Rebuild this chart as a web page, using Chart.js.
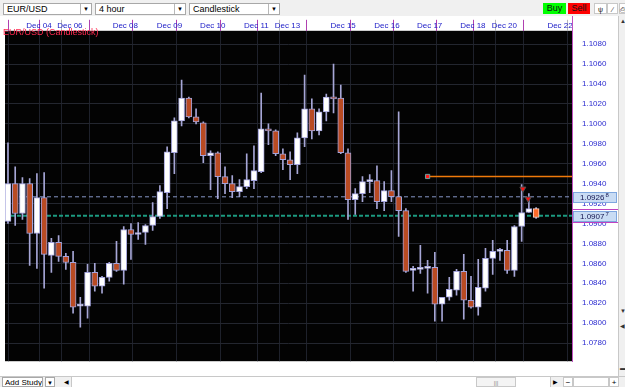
<!DOCTYPE html>
<html>
<head>
<meta charset="utf-8">
<script src="https://cdn.jsdelivr.net/npm/chart.js@4.4.0/dist/chart.umd.min.js"></script>
<style>
  body { margin: 0; width: 625px; height: 387px; overflow: hidden; position: relative; background: #f0f0f0; font-family: "Liberation Sans", Arial, sans-serif; }
  .box { position: absolute; background: #fff; border: 1px solid #a8a8a8; box-sizing: border-box; font-size: 9px; line-height: 10px; color: #000; padding-left: 3px; }
  .box .arr { position: absolute; right: 0; top: 0; width: 10px; height: 10px; border-left: 1px solid #b8b8b8; font-size: 6px; line-height: 10px; text-align: center; padding: 0; }
  .btn { position: absolute; top: 3px; height: 11px; font-size: 9px; line-height: 11px; text-align: center; color: #111; box-sizing: border-box; }
  #wrap { position: absolute; left: 0; top: 16px; width: 618px; height: 360px; }
  #legend { position: absolute; left: 3px; top: 27px; font-size: 9px; line-height: 11px; color: #ff2a50; white-space: nowrap; z-index: 2; }
  #side { position: absolute; left: 618px; top: 16px; width: 7px; height: 360px; background: #f0f0f0; border-left: 1px solid #c8c8c8; box-sizing: border-box; font-size: 6px; color: #333; }
  #bottom { position: absolute; left: 0; top: 376px; width: 625px; height: 11px; background: #f0f0f0; border-top: 1px solid #c8c8c8; box-sizing: border-box; font-size: 8px; }
  #bottom div { position: absolute; top: 0; height: 10px; line-height: 10px; box-sizing: border-box; white-space: nowrap; overflow: hidden; }
</style>
</head>
<body>
<div class="box" style="left:3px;top:3px;width:89px;height:12px">EUR/USD<div class="arr">&#9660;</div></div>
<div class="box" style="left:95px;top:3px;width:91px;height:12px">4 hour<div class="arr">&#9660;</div></div>
<div class="box" style="left:189px;top:3px;width:91px;height:12px">Candlestick<div class="arr">&#9660;</div></div>
<div class="btn" style="left:543px;width:23px;background:#00ff00">Buy</div>
<div class="btn" style="left:568px;width:22px;background:#ff0000">Sell</div>
<div class="btn" style="left:594px;width:13px;background:#fff;border:1px solid #c8c8c8;font-size:7px">&#968;</div>
<div class="btn" style="left:607px;width:11px;background:#fff;border:1px solid #c8c8c8;font-size:7px">&#8725;</div>
<div class="btn" style="left:619px;width:8px;background:#fff;border:1px solid #c8c8c8;font-size:7px">&#9113;</div>

<div id="wrap"><canvas id="chart"></canvas></div>
<div id="legend">EUR/USD (Candlestick)</div>
<div id="side"><div style="position:absolute;top:2px;left:1px">&#9650;</div><div style="position:absolute;top:292px;left:1px">&#9660;</div><div style="position:absolute;top:306px;left:1px">&#9664;</div><div style="position:absolute;top:349px;left:1px">&#9644;</div></div>
<div id="bottom">
  <div style="left:2px;width:41px;background:#fff;border:1px solid #a8a8a8;padding-left:2px">Add Study</div>
  <div style="left:45px;width:10px;background:#fff;border:1px solid #a8a8a8;font-size:6px;text-align:center">&#9660;</div>
  <div style="left:62px;width:8px;font-size:6px;text-align:center">&#9664;</div>
  <div style="left:71px;width:480px;background:#fff;border-left:1px solid #c8c8c8;border-right:1px solid #c8c8c8"></div>
  <div style="left:476px;width:40px;background:#f4f4f4;border:1px solid #c8c8c8;font-size:6px;text-align:center;color:#888">|||</div>
  <div style="left:551px;width:8px;font-size:6px;text-align:center">&#9654;</div>
  <div style="left:563px;width:10px;text-align:center;background:#fff;border:1px solid #c8c8c8">&minus;</div>
  <div style="left:573px;width:36px;background:#fff;border:1px solid #c8c8c8"></div>
  <div style="left:609px;width:10px;text-align:center;background:#fff;border:1px solid #c8c8c8">+</div>
</div>

<script>
// 4h EUR/USD candles, oldest first
const opens = [1.0902, 1.0940, 1.0910, 1.0940, 1.0890, 1.0926, 1.0868, 1.0881, 1.0867, 1.0861,
  1.0817, 1.0817, 1.0851, 1.0837, 1.0846, 1.0860, 1.0853, 1.0894, 1.0889, 1.0891,
  1.0898, 1.0907, 1.0931, 1.0971, 1.1003, 1.1026, 1.1007, 1.1001, 1.0968, 1.0971,
  1.0947, 1.0940, 1.0932, 1.0937, 1.0943, 1.0952, 1.0994, 1.0993, 1.0970, 1.0964,
  1.0959, 1.0986, 1.1015, 1.0993, 1.1012, 1.1027, 1.1026, 1.0971, 1.0924, 1.0930,
  1.0942, 1.0943, 1.0922, 1.0933, 1.0927, 1.0913, 1.0853, 1.0854, 1.0855, 1.0856,
  1.0819, 1.0826, 1.0833, 1.0852, 1.0823, 1.0816, 1.0835, 1.0865, 1.0872, 1.0873,
  1.0853, 1.0897, 1.0911, 1.0915];
const highs = [1.0981, 1.0957, 1.0946, 1.0945, 1.0950, 1.0951, 1.0885, 1.0888, 1.0870, 1.0872,
  1.0826, 1.0859, 1.0860, 1.0847, 1.0861, 1.0882, 1.0897, 1.0900, 1.0901, 1.0899,
  1.0921, 1.0938, 1.0977, 1.1006, 1.1044, 1.1027, 1.1015, 1.1002, 1.0973, 1.0972,
  1.0957, 1.0948, 1.0944, 1.0970, 1.0978, 1.1031, 1.1000, 1.0994, 1.0975, 1.0972,
  1.0991, 1.1049, 1.1025, 1.1015, 1.1030, 1.1060, 1.1039, 1.0975, 1.0935, 1.0947,
  1.0949, 1.0958, 1.0942, 1.0953, 1.1012, 1.0915, 1.0857, 1.0878, 1.0863, 1.0871,
  1.0826, 1.0846, 1.0854, 1.0869, 1.0847, 1.0864, 1.0875, 1.0883, 1.0875, 1.0883,
  1.0898, 1.0939, 1.0930, 1.0916];
const lows = [1.0900, 1.0898, 1.0904, 1.0858, 1.0855, 1.0835, 1.0851, 1.0862, 1.0854, 1.0810,
  1.0796, 1.0805, 1.0832, 1.0830, 1.0842, 1.0852, 1.0839, 1.0864, 1.0884, 1.0879,
  1.0893, 1.0905, 1.0915, 1.0950, 1.0998, 1.1006, 1.1000, 1.0961, 1.0934, 1.0925,
  1.0930, 1.0926, 1.0927, 1.0935, 1.0935, 1.0951, 1.0979, 1.0968, 1.0954, 1.0944,
  1.0950, 1.0977, 1.0985, 1.0989, 1.1003, 1.1011, 1.0970, 1.0904, 1.0909, 1.0922,
  1.0931, 1.0915, 1.0913, 1.0922, 1.0887, 1.0851, 1.0832, 1.0850, 1.0830, 1.0802,
  1.0802, 1.0823, 1.0828, 1.0804, 1.0815, 1.0808, 1.0832, 1.0849, 1.0863, 1.0850,
  1.0847, 1.0882, 1.0911, 1.0905];
const closes = [1.0940, 1.0910, 1.0940, 1.0890, 1.0926, 1.0869, 1.0881, 1.0867, 1.0861, 1.0816,
  1.0819, 1.0851, 1.0837, 1.0846, 1.0860, 1.0853, 1.0894, 1.0889, 1.0891, 1.0898,
  1.0907, 1.0932, 1.0972, 1.1003, 1.1026, 1.1007, 1.1002, 1.0968, 1.0971, 1.0947,
  1.0940, 1.0932, 1.0937, 1.0944, 1.0953, 1.0995, 1.0993, 1.0970, 1.0964, 1.0959,
  1.0986, 1.1015, 1.0993, 1.1012, 1.1027, 1.1025, 1.0971, 1.0924, 1.0930, 1.0942,
  1.0944, 1.0922, 1.0933, 1.0927, 1.0913, 1.0852, 1.0855, 1.0856, 1.0857, 1.0819,
  1.0826, 1.0834, 1.0852, 1.0823, 1.0816, 1.0836, 1.0865, 1.0872, 1.0874, 1.0853,
  1.0897, 1.0911, 1.0915, 1.0906];

// day separators (in candle units) and their header labels
const dayTicks = [2.26, 6.53, 8.36, 14.19, 20.3, 26.28, 32.34, 36.6, 38.33, 44.3, 50.36, 56.25, 62.23, 66.58, 68.26, 74.28];
const dayLabels = ["Dec 04", "Dec 06", "", "Dec 08", "Dec 09", "Dec 10", "Dec 11", "Dec 13", "", "Dec 15", "Dec 16", "Dec 17", "Dec 18", "Dec 20", "", "Dec 22"];
const priceTicks = [1.0780, 1.0800, 1.0820, 1.0840, 1.0860, 1.0880, 1.0900, 1.0920, 1.0940, 1.0960, 1.0980, 1.1000, 1.1020, 1.1040, 1.1060, 1.1080];

const bidPrice = 1.09268;
const askPrice = 1.09077;
const alertPrice = 1.09472;
const alertStart = 58;
const signalX = [71.17, 71.9];
const signalY = [1.09348, 1.09248];

const xMin = -0.41;
const xMax = 77.96;
const yMin = 1.07618;
const yMax = 1.10934;

const FONT = "'Liberation Sans', Arial, sans-serif";
const last = opens.length - 1;
const idx = opens.map((_, i) => i);

function splitPrice(p) {
  const s = p.toFixed(5);
  return [s.slice(0, 6), s.slice(6)];
}

const panelPlugin = {
  id: "panel",
  beforeDraw(chart) {
    const { ctx, chartArea: a, width, height } = chart;
    ctx.save();
    ctx.fillStyle = "#ffffff";
    ctx.fillRect(0, 0, width, height);
    ctx.fillStyle = "#030303";
    ctx.fillRect(a.left, a.top, a.right - a.left, a.bottom - a.top);
    ctx.restore();
  },
  afterDraw(chart) {
    const { ctx, chartArea: a, width } = chart;
    const ys = chart.scales.y;
    ctx.save();
    ctx.strokeStyle = "#c050c0";
    ctx.lineWidth = 1;
    ctx.beginPath();
    ctx.moveTo(a.right + 0.5, 0);
    ctx.lineTo(a.right + 0.5, a.bottom);
    ctx.stroke();

    [[bidPrice, false], [askPrice, true]].forEach(([price, framed]) => {
      const py = Math.round(ys.getPixelForValue(price));
      if (framed) {
        ctx.strokeStyle = "#c040c0";
        ctx.beginPath();
        ctx.moveTo(a.right, py - 6.5);
        ctx.lineTo(width, py - 6.5);
        ctx.moveTo(a.right, py + 6.5);
        ctx.lineTo(width, py + 6.5);
        ctx.stroke();
      }
      ctx.fillStyle = "#c9dcf4";
      ctx.fillRect(a.right + 1, py - 5, 44, 11);
      ctx.strokeStyle = "#7ea6de";
      ctx.strokeRect(a.right + 1.5, py - 4.5, 43, 10);
      const [main, sup] = splitPrice(price);
      ctx.fillStyle = "#141450";
      ctx.textBaseline = "middle";
      ctx.textAlign = "left";
      ctx.font = "8px " + FONT;
      ctx.fillText(main, a.right + 8, py + 0.5);
      const w = ctx.measureText(main).width;
      ctx.font = "6px " + FONT;
      ctx.fillText(sup, a.right + 9 + w, py - 1.5);
    });
    ctx.restore();
  },
};

new Chart(document.getElementById("chart"), {
  type: "bar",
  data: {
    datasets: [
      {
        type: "line",
        data: [{ x: alertStart, y: alertPrice }, { x: xMax, y: alertPrice }],
        borderColor: "#f07a0a",
        borderWidth: 1.5,
        pointRadius: [3, 0],
        pointStyle: "rect",
        pointBackgroundColor: "#ff1a1a",
        pointBorderColor: "#6aa0a0",
        pointBorderWidth: 1,
        order: 0,
      },
      {
        type: "line",
        data: signalX.map((x, i) => ({ x, y: signalY[i] })),
        showLine: false,
        pointStyle: "triangle",
        rotation: 180,
        pointRadius: 3.5,
        pointBackgroundColor: "#ff1010",
        pointBorderColor: "#505050",
        pointBorderWidth: 1,
        order: 0,
      },
      {
        type: "bar",
        data: idx.map((i) => ({ x: i, y: [opens[i], closes[i]] })),
        backgroundColor: idx.map((i) => (i === last ? "#ff6b2a" : closes[i] >= opens[i] ? "#ffffff" : "#b94b23")),
        borderColor: idx.map((i) => (i === last ? "#ffd8c8" : "#a4a4dc")),
        borderWidth: 1,
        borderSkipped: false,
        barThickness: 6,
        minBarLength: 2,
        grouped: false,
        order: 1,
      },
      {
        type: "bar",
        data: idx.map((i) => ({ x: i, y: [lows[i], highs[i]] })),
        backgroundColor: "#a6a6d6",
        barThickness: 1,
        grouped: false,
        order: 2,
      },
      {
        type: "line",
        data: [{ x: xMin, y: bidPrice }, { x: xMax, y: bidPrice }],
        borderColor: "#8898c8",
        borderWidth: 1,
        borderDash: [4, 3],
        pointRadius: 0,
        order: 3,
      },
      {
        type: "line",
        data: [{ x: xMin, y: askPrice }, { x: xMax, y: askPrice }],
        borderColor: "#1c9a80",
        borderWidth: 2,
        borderDash: [4, 2],
        pointRadius: 0,
        order: 3,
      },
    ],
  },
  options: {
    responsive: true,
    maintainAspectRatio: false,
    animation: false,
    devicePixelRatio: 1,
    layout: { padding: { left: 3, right: 0, top: 0, bottom: 2 } },
    plugins: { legend: { display: false }, tooltip: { enabled: false } },
    scales: {
      x: {
        type: "linear",
        position: "top",
        min: xMin,
        max: xMax,
        offset: false,
        afterBuildTicks: (s) => { s.ticks = dayTicks.map((v) => ({ value: v })); },
        afterFit: (s) => { s.height = 11; },
        ticks: {
          callback: (v, i) => dayLabels[i],
          autoSkip: false,
          maxRotation: 0,
          align: "start",
          labelOffset: 2,
          padding: -11,
          color: "#2020c8",
          font: { size: 8, family: FONT },
        },
        grid: {
          color: "#1e212b",
          tickLength: 11,
          tickColor: (ctx) => (dayLabels[ctx.index] ? "#b040b0" : "#b8b8b8"),
        },
        border: { display: false },
      },
      y: {
        position: "right",
        min: yMin,
        max: yMax,
        afterBuildTicks: (s) => { s.ticks = priceTicks.map((v) => ({ value: v })); },
        afterFit: (s) => { s.width = 46; },
        ticks: {
          callback: (v) => v.toFixed(4),
          color: "#2b2bd0",
          padding: 10,
          font: { size: 8, family: FONT },
        },
        grid: { color: "#23262f", drawTicks: false },
        border: { color: "#c050c0" },
      },
    },
  },
  plugins: [panelPlugin],
});
</script>
</body>
</html>
